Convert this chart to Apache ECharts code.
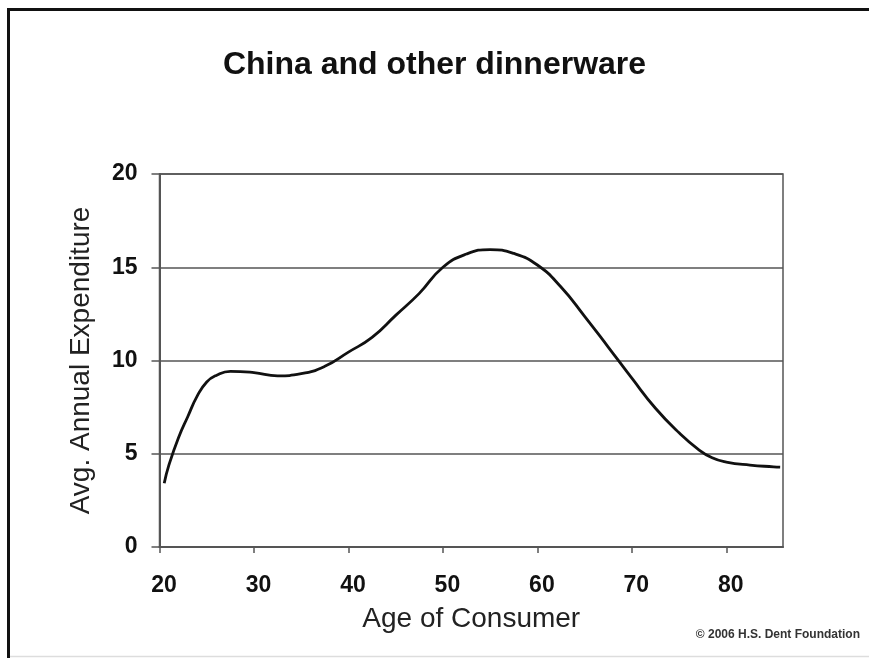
<!DOCTYPE html>
<html>
<head>
<meta charset="utf-8">
<script src="https://cdn.jsdelivr.net/npm/echarts@6/dist/echarts.min.js"></script>
<style>
  html, body { margin: 0; padding: 0; background: #fff; }
  #chart { width: 869px; height: 658px; }
</style>
</head>
<body>
<div id="chart"></div>
<script>
// Average annual spending on china and other dinnerware by consumer age
const ages = [20.5, 21, 22, 23, 24, 25, 26, 27.5, 30, 32.5, 35, 37.5, 40, 42.5, 45, 47.5,
  50, 52.5, 55, 57.5, 60, 62.5, 65, 67.5, 70, 72.5, 75, 77, 78.5, 80, 82.5, 85, 85.7];
const spending = [3.42, 4.4, 5.85, 7.0, 8.1, 8.85, 9.2, 9.42, 9.35, 9.18, 9.29, 9.69, 10.45,
  11.24, 12.42, 13.6, 15.0, 15.71, 15.95, 15.74, 15.12, 13.94, 12.37, 10.72, 9.05, 7.44,
  6.12, 5.25, 4.78, 4.55, 4.39, 4.3, 4.28];
const ageTicks = [20, 30, 40, 50, 60, 70, 80];
const titleText = 'China and other dinnerware';
const xName = 'Age of Consumer';
const yName = 'Avg. Annual Expenditure';
const credit = '\u00A9 2006 H.S. Dent Foundation';

const FONT = '"Liberation Sans", Arial, Helvetica, sans-serif';
const chart = echarts.init(document.getElementById('chart'), null, { renderer: 'canvas' });

chart.setOption({
  animation: false,
  backgroundColor: '#fff',
  title: {
    text: titleText,
    left: 'center',
    top: 44,
    textStyle: { fontFamily: FONT, fontSize: 32, fontWeight: 'bold', color: '#111' }
  },
  grid: {
    left: 159.5, right: 86, top: 174, bottom: 111,
    show: true, borderColor: '#555', borderWidth: 1.5, backgroundColor: 'transparent'
  },
  xAxis: {
    type: 'value',
    min: 20, max: 86,
    name: xName,
    nameLocation: 'middle',
    nameGap: 58,
    nameTextStyle: { fontFamily: FONT, fontSize: 28, color: '#222' },
    axisLine: { show: true, onZero: false, lineStyle: { color: '#555', width: 2 } },
    axisTick: { show: true, length: 6, customValues: ageTicks, lineStyle: { color: '#555', width: 1.5 } },
    axisLabel: {
      customValues: ageTicks,
      margin: 27,
      padding: [0, 0, 0, 9],
      fontFamily: FONT, fontSize: 23, fontWeight: 'bold', color: '#111'
    },
    splitLine: { show: false }
  },
  yAxis: {
    type: 'value',
    min: 0, max: 20, interval: 5,
    name: yName,
    nameLocation: 'middle',
    nameGap: 64,
    nameTextStyle: { fontFamily: FONT, fontSize: 28, color: '#222' },
    axisLine: { show: true, lineStyle: { color: '#555', width: 2 } },
    axisTick: { show: true, length: 8, lineStyle: { color: '#555', width: 1.5 } },
    axisLabel: {
      margin: 22,
      fontFamily: FONT, fontSize: 23, fontWeight: 'bold', color: '#111'
    },
    splitLine: { show: true, lineStyle: { color: '#555', width: 1.5 } }
  },
  series: [{
    type: 'line',
    data: ages.map((a, i) => [a, spending[i]]),
    smooth: 0.5,
    showSymbol: false,
    lineStyle: { color: '#111', width: 2.8 }
  }],
  graphic: [
    {
      type: 'rect',
      shape: { x: 8.5, y: 9.5, width: 900, height: 700 },
      style: { fill: 'none', stroke: '#111', lineWidth: 3 },
      silent: true
    },
    {
      type: 'line',
      shape: { x1: 10, y1: 656.5, x2: 869, y2: 656.5 },
      style: { stroke: '#ddd', lineWidth: 1.5 },
      silent: true
    },
    {
      type: 'text',
      right: 9,
      top: 629,
      style: { text: credit, font: 'bold 12px ' + FONT, fill: '#333' },
      silent: true
    }
  ]
});
</script>
</body>
</html>
